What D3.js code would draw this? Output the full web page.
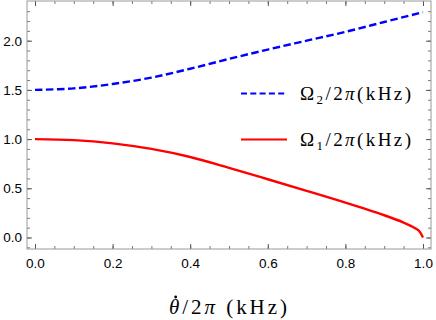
<!DOCTYPE html>
<html>
<head>
<meta charset="utf-8">
<script src="https://cdn.jsdelivr.net/npm/d3@7"></script>
<style>
  html, body { margin: 0; padding: 0; background: #fff; }
  svg { display: block; }
  .tick text { font-family: "Liberation Sans", Arial, sans-serif; font-size: 13.5px; fill: #000; }
  .serif { font-family: "Liberation Serif", "DejaVu Serif", serif; }
</style>
</head>
<body>
<div id="chart"></div>
<script>
// values
const rate = [0, 0.1, 0.2, 0.3, 0.4, 0.5, 0.6, 0.7, 0.8, 0.9, 1.0]
const omega2 = [1.50, 1.515, 1.56, 1.625, 1.715, 1.815, 1.91, 2.0, 2.09, 2.19, 2.29]

const rate1 = [0, 0.1, 0.2, 0.3, 0.4, 0.5, 0.6, 0.7, 0.8, 0.9, 0.95, 0.98, 0.99, 1.0]
const omega1 = [1.0, 0.99, 0.957, 0.9, 0.818, 0.708, 0.592, 0.474, 0.354, 0.226, 0.152, 0.094, 0.066, 0.0]

const xTicks = [0, 0.2, 0.4, 0.6, 0.8, 1.0]
const yTicks = [0, 0.5, 1.0, 1.5, 2.0]
const xMinor = d3.range(0, 1.0001, 0.05)
const yMinor = d3.range(-0.1, 2.4, 0.1)

const width = 436, height = 320
const mLeft = 27, mRight = 431, mTop = 1, mBottom = 249

const x = d3.scaleLinear().domain([-0.0206, 1.0206]).range([mLeft, mRight])
const y = d3.scaleLinear().domain([-0.117, 2.4035]).range([mBottom, mTop])

const svg = d3.select('#chart').append('svg')
    .attr('width', width).attr('height', height)

// minor ticks (drawn first, under majors)
const minorStyle = g => {
    g.select('.domain').remove()
    g.selectAll('.tick line').attr('stroke', '#777')
    g.selectAll('.tick text').remove()
}
svg.append('g').attr('transform', `translate(0,${mBottom})`)
    .call(d3.axisBottom(x).tickValues(xMinor).tickSize(-3)).call(minorStyle)
svg.append('g').attr('transform', `translate(0,${mTop})`)
    .call(d3.axisTop(x).tickValues(xMinor).tickSize(-3)).call(minorStyle)
svg.append('g').attr('transform', `translate(${mLeft},0)`)
    .call(d3.axisLeft(y).tickValues(yMinor).tickSize(-3)).call(minorStyle)
svg.append('g').attr('transform', `translate(${mRight},0)`)
    .call(d3.axisRight(y).tickValues(yMinor).tickSize(-3)).call(minorStyle)

// major ticks
const majorStyle = g => {
    g.select('.domain').remove()
    g.selectAll('.tick line').attr('stroke', '#555')
}
svg.append('g').attr('transform', `translate(0,${mBottom})`)
    .call(d3.axisBottom(x).tickValues(xTicks).tickFormat(d3.format('.1f')).tickSize(-5).tickPadding(9))
    .call(majorStyle)
svg.append('g').attr('transform', `translate(${mLeft},0)`)
    .call(d3.axisLeft(y).tickValues(yTicks).tickFormat(d3.format('.1f')).tickSize(-5).tickPadding(5))
    .call(majorStyle)
svg.append('g').attr('transform', `translate(0,${mTop})`)
    .call(d3.axisTop(x).tickValues(xTicks).tickFormat('').tickSize(-5))
    .call(majorStyle)
svg.append('g').attr('transform', `translate(${mRight},0)`)
    .call(d3.axisRight(y).tickValues(yTicks).tickFormat('').tickSize(-5))
    .call(majorStyle)

// frame
svg.append('rect')
    .attr('x', mLeft).attr('y', mTop)
    .attr('width', mRight - mLeft).attr('height', mBottom - mTop)
    .attr('fill', 'none').attr('stroke', '#999').attr('stroke-width', 1)

const line = d3.line().curve(d3.curveCatmullRom.alpha(0.5))

svg.append('path')
    .attr('d', line(rate.map((r, i) => [x(r), y(omega2[i])])))
    .attr('fill', 'none').attr('stroke', '#0000ff')
    .attr('stroke-width', 2.4).attr('stroke-dasharray', '7.5,3.5')

svg.append('path')
    .attr('d', line(rate1.map((r, i) => [x(r), y(omega1[i])])))
    .attr('fill', 'none').attr('stroke', '#ff0000')
    .attr('stroke-width', 2.4)

// legend
const legend = [
    { sub: '2', color: '#0000ff', dash: '6,3.3', yv: 93.5 },
    { sub: '1', color: '#ff0000', dash: null, yv: 139.5 }
]
legend.forEach(d => {
    svg.append('line')
        .attr('x1', 241).attr('x2', 287).attr('y1', d.yv).attr('y2', d.yv)
        .attr('stroke', d.color).attr('stroke-width', 2.2)
        .attr('stroke-dasharray', d.dash)
    const t = svg.append('text').attr('class', 'serif')
        .attr('x', 300).attr('y', d.yv + 6.5).attr('font-size', 19)
        .attr('textLength', 111).attr('lengthAdjust', 'spacing')
    t.append('tspan').text('Ω')
    t.append('tspan').attr('font-size', 13).attr('dy', 4).text(d.sub)
    t.append('tspan').attr('dy', -4).text('/2')
    t.append('tspan').attr('font-style', 'italic').text('π')
    t.append('tspan').text('(kHz)')
})

// x axis title
const xt = svg.append('text').attr('class', 'serif')
    .attr('x', 169).attr('y', 314).attr('font-size', 21)
    .attr('textLength', 118).attr('lengthAdjust', 'spacing')
xt.append('tspan').attr('font-style', 'italic').text('θ')
xt.append('tspan').text('/2')
xt.append('tspan').attr('font-style', 'italic').text('π')
xt.append('tspan').text('\u00a0(kHz)')

// dot over theta
const ext = xt.node().getExtentOfChar(0)
svg.append('circle')
    .attr('cx', ext.x + ext.width / 2 + 1.5).attr('cy', 297)
    .attr('r', 1.4).attr('fill', '#000')
</script>
</body>
</html>
